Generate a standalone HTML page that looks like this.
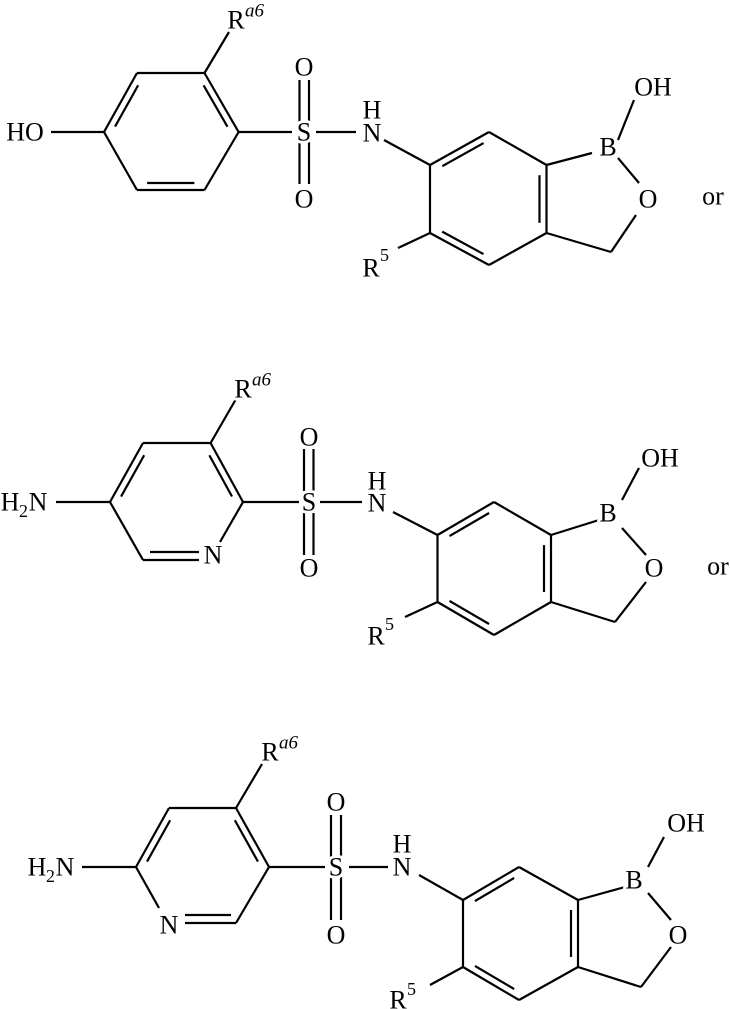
<!DOCTYPE html>
<html><head><meta charset="utf-8"><style>
html,body{margin:0;padding:0;background:#fff;}
svg{display:block}
text{font-family:"Liberation Serif",serif;font-size:26px;fill:#000;stroke:#fff;stroke-width:6px;paint-order:stroke;stroke-linejoin:round}
.s{font-size:19px;font-style:italic;text-anchor:start}
.n{font-size:18px;text-anchor:start}
</style></head><body>
<svg id="m" width="730" height="1009" viewBox="0 0 730 1009" xmlns="http://www.w3.org/2000/svg">
<g id="L" stroke="#000" stroke-width="2.2" fill="none" stroke-linecap="butt"></g>
<g text-anchor="middle" dominant-baseline="central">
<text x="236" y="20">R</text><text class="s" x="245" y="11">a6</text>
<text x="25" y="132">HO</text>
<text x="304" y="132">S</text>
<text x="304" y="67">O</text>
<text x="304" y="199">O</text>
<text x="372" y="110">H</text>
<text x="372" y="133">N</text>
<text x="608" y="147">B</text>
<text x="653" y="87">OH</text>
<text x="648" y="199">O</text>
<text x="371" y="268">R</text><text class="n" x="380" y="255">5</text>
<text x="713" y="196">or</text>
<text x="243" y="389">R</text><text class="s" x="252" y="380">a6</text>
<text x="10" y="502">H</text><text class="n" x="19" y="511">2</text><text x="38" y="502">N</text>
<text x="309" y="502">S</text>
<text x="309" y="437">O</text>
<text x="309" y="568">O</text>
<text x="377" y="481">H</text>
<text x="377" y="503">N</text>
<text x="213" y="555">N</text>
<text x="608" y="513">B</text>
<text x="660" y="458">OH</text>
<text x="654" y="568">O</text>
<text x="376" y="636">R</text><text class="n" x="385" y="624">5</text>
<text x="718" y="566">or</text>
<text x="270" y="752">R</text><text class="s" x="279" y="743">a6</text>
<text x="37" y="867">H</text><text class="n" x="46" y="876">2</text><text x="65" y="867">N</text>
<text x="336" y="867">S</text>
<text x="336" y="802">O</text>
<text x="336" y="935">O</text>
<text x="402" y="844">H</text>
<text x="402" y="867">N</text>
<text x="169" y="925">N</text>
<text x="634" y="880">B</text>
<text x="686" y="823">OH</text>
<text x="678" y="935">O</text>
<text x="398" y="1000">R</text><text class="n" x="407" y="989">5</text>
</g>
</svg>
<script>
var g=document.getElementById('L'),NS='http://www.w3.org/2000/svg';
function l(a,b,c,d){var e=document.createElementNS(NS,'line');e.setAttribute('x1',a);e.setAttribute('y1',b);e.setAttribute('x2',c);e.setAttribute('y2',d);g.appendChild(e);}
function inner(p,q,c,f1,f2){var d=7;var mx=(p[0]+q[0])/2,my=(p[1]+q[1])/2;var dx=q[0]-p[0],dy=q[1]-p[1],L=Math.hypot(dx,dy);var nx=-dy/L,ny=dx/L;if((c[0]-mx)*nx+(c[1]-my)*ny<0){nx=-nx;ny=-ny;}
f1=f1==null?0.15:f1;f2=f2==null?0.15:f2;l(p[0]+dx*f1+nx*d,p[1]+dy*f1+ny*d,q[0]-dx*f2+nx*d,q[1]-dy*f2+ny*d);}
function P(pts){for(var i=0;i<pts.length-1;i++)l(pts[i][0],pts[i][1],pts[i+1][0],pts[i+1][1]);}
function right(r,B,OB,BO,OC,CH2,Nb,R5b){
 P([Nb[0],Nb[1]]);P([r[0],r[1],r[2],r[3],r[4],r[5],r[0]]);
 var c=[(r[0][0]+r[2][0])/2,(r[1][1]+r[4][1])/2];
 inner(r[0],r[1],c);inner(r[2],r[3],c);inner(r[4],r[5],c);
 P([r[2],B]);P(OB);P(BO);P(OC);P([CH2,r[3]]);P(R5b);}
var a=[[137,73],[204.5,73],[238.6,132],[204.5,190],[137,190],[104,132]],ca=[171,132];
P([a[0],a[1],a[2],a[3],a[4],a[5],a[0]]);inner(a[5],a[0],ca);inner(a[1],a[2],ca);inner(a[3],a[4],ca);
P([[204.5,73],[229,32]]);P([[51,132],[104,132]]);P([[238.6,132],[292,132]]);P([[316,132],[356,132]]);
l(299.5,80,299.5,123);l(309,80,309,123);l(299.5,141,299.5,184);l(309,141,309,184);
right([[430,165],[489,132],[546.5,165],[546.5,233],[489,265],[430,233]],[592,153],[[618,140],[634,100]],[[618,158],[639,183]],[[636,215],[611,252]],[611,252],[[384,140],[430,165]],[[430,233],[398,248]]);
var b=[[143,443],[210.6,443],[243,502],[220,542],[143,560],[110,502]],cb=[176,502];
P([[220,542],[243,502],[210.6,443],[143,443],[110,502],[143,560],[199,560]]);
inner(b[5],b[0],cb);inner(b[1],b[2],cb);l(150,552,199,552);
P([[210.6,443],[236,399]]);P([[56,502],[110,502]]);P([[243,502],[299,502]]);P([[320,502],[362,502]]);
l(304,449,304,491);l(313.5,449,313.5,491);l(304,513,304,555);l(313.5,513,313.5,555);
right([[437.5,535],[494,502],[551,535],[551,602],[494,635],[437.5,602]],[599,520],[[622,500],[639,468]],[[622,528],[646,555]],[[646,582],[615,622]],[615,622],[[393,512],[437.5,535]],[[437.5,602],[405,617]]);
P([[159,908],[136,867],[169,808],[236,808],[269,867],[236,923],[185,923]]);
var cc=[202,867];inner([136,867],[169,808],cc);inner([236,808],[269,867],cc);l(185,915,231,915);
P([[236,808],[262,764]]);P([[82,867],[136,867]]);P([[269,867],[325,867]]);P([[349,867],[388,867]]);
l(331,815,331,858);l(341,815,341,858);l(331,877,331,920);l(341,877,341,920);
right([[463,900],[519,867],[578,900],[578,967],[519,1000],[463,967]],[625,887],[[648,867],[664,837]],[[648,893],[671,920]],[[671,947],[641,987]],[641,987],[[419,875],[463,900]],[[463,967],[430,985]]);
</script>
</body></html>
